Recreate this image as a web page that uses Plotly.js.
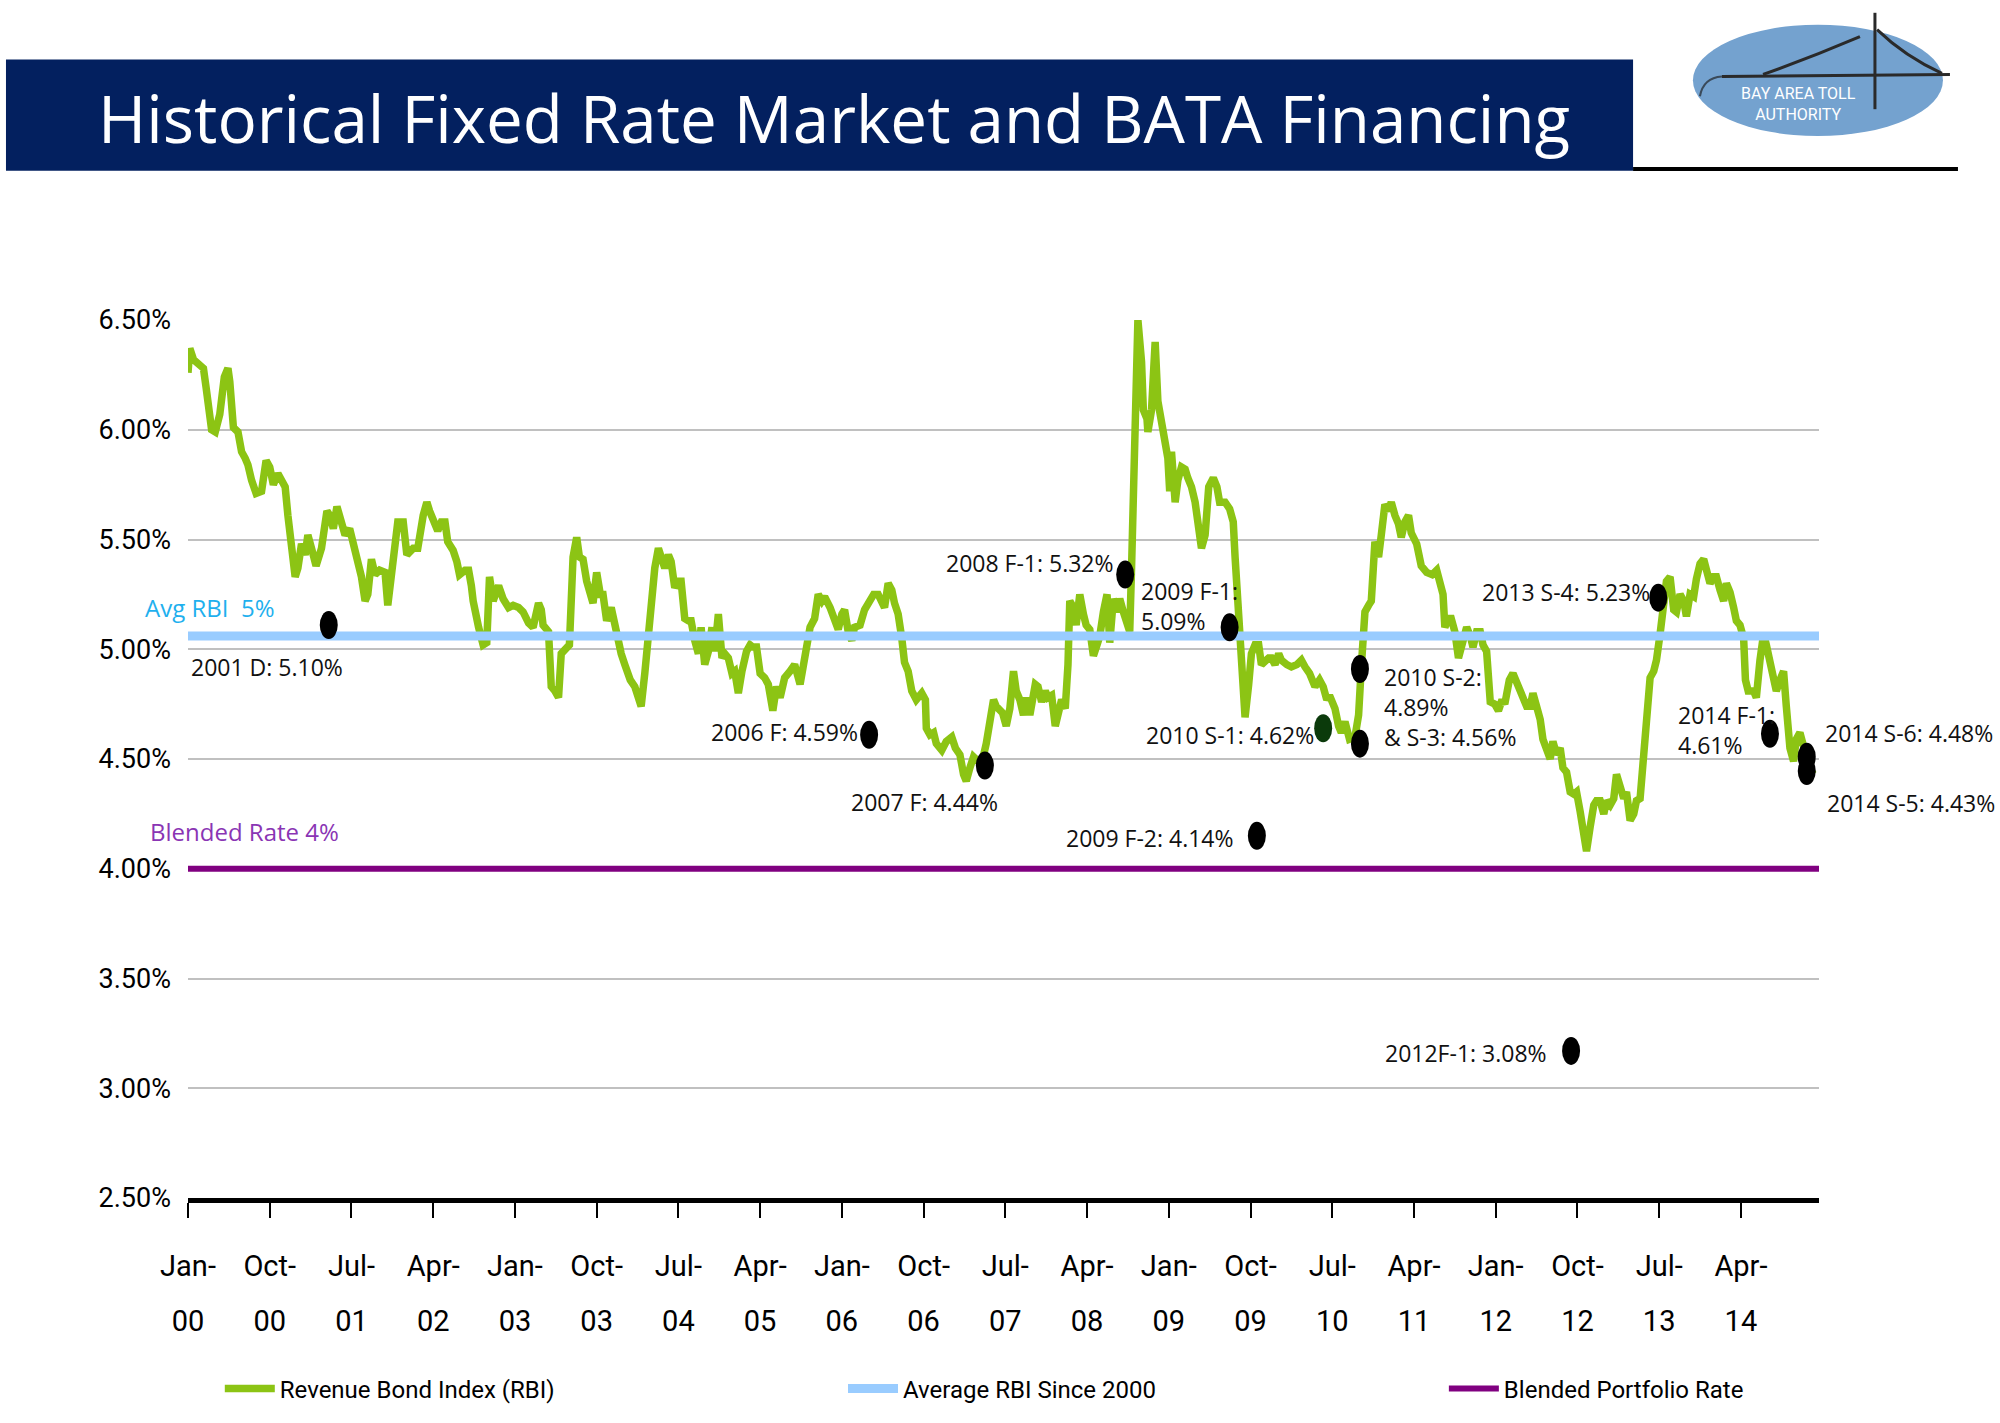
<!DOCTYPE html>
<html>
<head>
<meta charset="utf-8">
<script src="https://cdn.plot.ly/plotly-3.0.1.min.js"></script>
<style>
  html, body { margin: 0; padding: 0; background: #ffffff; }
  #chart { width: 2000px; height: 1423px; }
</style>
</head>
<body>
<div id="chart"></div>
<script>
// RBI readings, x = months since Jan 2000
const rbiMonths = [
  0.0, 0.2, 0.6, 1.1, 1.7, 2.0, 2.6, 3.0, 3.5, 4.0, 4.4, 4.6, 5.0, 5.5, 5.9, 6.3, 6.6, 7.0, 7.5, 8.1,
  8.6, 9.0, 9.4, 9.9, 10.3, 10.7, 11.0, 11.4, 11.8, 12.1, 12.5, 12.9, 13.2, 13.6, 14.1, 14.7, 15.3, 15.6, 16.0, 16.4,
  16.9, 17.3, 17.8, 18.2, 18.7, 19.1, 19.5, 19.8, 20.2, 20.6, 21.1, 21.7, 22.0, 22.4, 22.8, 23.1, 23.7, 24.1, 24.8, 25.3,
  25.9, 26.3, 26.6, 27.0, 27.5, 27.9, 28.3, 28.6, 29.2, 29.6, 29.9, 30.5, 30.9, 31.2, 31.4, 32.0, 32.5, 32.9, 33.2, 33.6,
  34.2, 34.7, 35.3, 35.8, 36.4, 36.9, 37.5, 38.0, 38.3, 38.6, 38.9, 39.1, 39.7, 40.0, 40.4, 40.8, 41.1, 41.7, 42.0, 42.4,
  42.8, 43.1, 43.5, 43.9, 44.3, 44.6, 45.0, 45.4, 45.7, 46.1, 46.6, 47.0, 47.4, 47.7, 48.1, 48.7, 49.2, 49.6, 49.9, 50.3,
  50.7, 51.0, 51.4, 51.8, 52.1, 52.5, 52.9, 53.2, 53.6, 54.0, 54.3, 54.7, 55.1, 55.4, 55.8, 56.2, 56.5, 56.9, 57.3, 57.7,
  58.0, 58.4, 58.8, 59.1, 59.5, 59.9, 60.2, 60.6, 61.0, 61.5, 61.9, 62.2, 62.6, 63.0, 63.5, 63.9, 64.4, 64.8, 65.2, 65.7,
  66.3, 66.8, 67.4, 67.9, 68.5, 69.0, 69.4, 69.8, 70.1, 70.7, 71.2, 71.6, 72.0, 72.3, 72.7, 73.1, 73.4, 74.0, 74.5, 75.1,
  75.5, 76.0, 76.4, 76.7, 77.1, 77.5, 77.8, 78.2, 78.6, 78.9, 79.3, 79.7, 80.2, 80.8, 81.2, 81.3, 81.7, 82.1, 82.4, 83.0,
  83.5, 84.1, 84.5, 85.0, 85.4, 85.7, 86.1, 86.5, 87.0, 87.4, 87.9, 88.3, 88.7, 89.0, 89.4, 89.7, 90.1, 90.5, 90.9, 91.2,
  91.6, 92.0, 92.3, 92.7, 93.3, 93.6, 94.0, 94.4, 94.7, 95.1, 95.5, 95.8, 96.2, 96.6, 96.9, 97.1, 97.5, 97.8, 98.2, 98.6,
  98.9, 99.3, 99.7, 100.1, 100.4, 100.8, 101.2, 101.5, 101.9, 102.3, 102.6, 103.0, 103.4, 103.7, 103.9, 104.3, 104.6, 105.0, 105.2, 105.6,
  105.7, 106.1, 106.5, 106.8, 107.2, 107.6, 107.9, 108.1, 108.3, 108.7, 109.0, 109.4, 109.8, 110.1, 110.5, 110.9, 111.3, 111.6, 112.0, 112.4,
  112.9, 113.3, 113.6, 114.2, 114.7, 115.1, 115.3, 115.7, 116.0, 116.4, 116.8, 117.1, 117.5, 117.9, 118.2, 118.6, 119.0, 119.3, 119.7, 120.1,
  120.4, 121.0, 121.5, 122.1, 122.6, 123.0, 123.5, 124.1, 124.6, 125.0, 125.4, 125.7, 126.3, 126.7, 127.0, 127.4, 127.9, 128.5, 128.9, 129.2,
  129.6, 130.0, 130.3, 130.7, 131.1, 131.4, 131.8, 132.2, 132.5, 132.9, 133.3, 133.6, 134.0, 134.4, 134.7, 135.3, 135.8, 136.4, 137.0, 137.5,
  137.9, 138.2, 138.4, 138.8, 139.1, 139.5, 139.9, 140.3, 140.8, 141.2, 141.5, 141.9, 142.3, 142.6, 143.0, 143.4, 143.9, 144.3, 144.7, 145.0,
  145.5, 145.9, 146.2, 146.5, 146.9, 147.4, 147.8, 148.1, 148.5, 148.9, 149.2, 149.6, 150.0, 150.3, 150.7, 151.1, 151.4, 151.8, 152.2, 152.6,
  152.9, 153.3, 153.7, 154.0, 154.4, 154.8, 155.1, 155.5, 155.9, 156.2, 156.6, 157.0, 157.3, 157.7, 158.1, 158.4, 158.8, 159.2, 159.5, 159.9,
  160.3, 160.6, 161.0, 161.4, 161.7, 162.1, 162.5, 162.8, 163.2, 163.6, 163.9, 164.3, 164.7, 165.0, 165.4, 165.8, 166.1, 166.5, 166.9, 167.2,
  167.6, 168.0, 168.3, 168.7, 169.1, 169.4, 169.8, 170.2, 170.5, 170.9, 171.3, 171.5, 171.8, 172.4, 172.7, 173.1, 173.5, 173.8, 174.2, 174.6,
  174.9, 175.3, 175.7, 176.0, 176.4, 176.8, 177.1, 177.5, 177.9, 178.2, 178.6, 179.0
];
const rbiValues = [
  6.26, 6.37, 6.32, 6.30, 6.28, 6.19, 6.00, 5.99, 6.07, 6.24, 6.28, 6.22, 6.01, 5.99, 5.90, 5.87, 5.84, 5.77, 5.71, 5.72,
  5.86, 5.83, 5.75, 5.80, 5.77, 5.74, 5.61, 5.49, 5.33, 5.37, 5.48, 5.43, 5.52, 5.46, 5.38, 5.46, 5.63, 5.61, 5.55, 5.65,
  5.58, 5.52, 5.55, 5.49, 5.40, 5.33, 5.22, 5.25, 5.41, 5.34, 5.36, 5.35, 5.20, 5.37, 5.52, 5.58, 5.58, 5.43, 5.46, 5.46,
  5.61, 5.67, 5.63, 5.58, 5.54, 5.58, 5.58, 5.49, 5.45, 5.40, 5.34, 5.36, 5.36, 5.29, 5.22, 5.10, 5.02, 5.03, 5.33, 5.22,
  5.29, 5.23, 5.19, 5.20, 5.19, 5.17, 5.12, 5.10, 5.18, 5.21, 5.18, 5.11, 5.08, 4.83, 4.81, 4.78, 4.98, 5.01, 5.02, 5.42,
  5.51, 5.42, 5.41, 5.31, 5.24, 5.21, 5.35, 5.25, 5.25, 5.13, 5.19, 5.10, 5.04, 4.98, 4.93, 4.86, 4.83, 4.78, 4.74, 4.89,
  5.08, 5.18, 5.37, 5.46, 5.42, 5.37, 5.43, 5.40, 5.28, 5.31, 5.31, 5.14, 5.13, 5.13, 5.04, 4.98, 5.10, 4.93, 4.99, 5.10,
  4.99, 5.16, 4.96, 4.98, 4.96, 4.89, 4.90, 4.80, 4.90, 4.99, 5.02, 5.01, 5.01, 4.89, 4.87, 4.84, 4.72, 4.83, 4.78, 4.87,
  4.90, 4.93, 4.84, 4.96, 5.10, 5.14, 5.25, 5.22, 5.24, 5.19, 5.13, 5.09, 5.16, 5.18, 5.08, 5.04, 5.10, 5.11, 5.18, 5.23,
  5.25, 5.25, 5.21, 5.19, 5.30, 5.27, 5.21, 5.16, 5.05, 4.94, 4.90, 4.81, 4.77, 4.80, 4.77, 4.64, 4.61, 4.62, 4.57, 4.54,
  4.58, 4.60, 4.55, 4.52, 4.43, 4.40, 4.46, 4.51, 4.49, 4.48, 4.57, 4.67, 4.77, 4.74, 4.72, 4.71, 4.65, 4.73, 4.90, 4.81,
  4.77, 4.70, 4.78, 4.70, 4.84, 4.83, 4.76, 4.81, 4.78, 4.79, 4.65, 4.70, 4.77, 4.73, 4.93, 5.22, 5.19, 5.11, 5.25, 5.16,
  5.11, 5.09, 4.97, 5.02, 5.06, 5.17, 5.25, 5.03, 5.23, 5.17, 5.23, 5.17, 5.12, 5.08, 5.37, 5.98, 6.50, 6.31, 6.09, 6.05,
  5.99, 6.09, 6.40, 6.13, 6.04, 5.96, 5.87, 5.72, 5.90, 5.67, 5.77, 5.83, 5.82, 5.78, 5.74, 5.67, 5.57, 5.46, 5.52, 5.74,
  5.78, 5.74, 5.67, 5.67, 5.64, 5.58, 5.42, 5.14, 4.87, 4.69, 4.84, 4.98, 5.02, 5.02, 4.93, 4.95, 4.96, 4.96, 4.93, 4.98,
  4.95, 4.93, 4.92, 4.93, 4.95, 4.92, 4.89, 4.83, 4.86, 4.83, 4.77, 4.79, 4.73, 4.65, 4.62, 4.67, 4.59, 4.60, 4.70, 4.92,
  5.17, 5.20, 5.22, 5.49, 5.42, 5.52, 5.66, 5.63, 5.67, 5.61, 5.57, 5.51, 5.58, 5.61, 5.53, 5.48, 5.38, 5.35, 5.34, 5.36,
  5.30, 5.25, 5.10, 5.14, 5.14, 5.08, 4.96, 5.04, 5.10, 5.06, 5.01, 5.08, 5.08, 5.02, 4.99, 4.76, 4.75, 4.72, 4.77, 4.75,
  4.86, 4.89, 4.86, 4.83, 4.78, 4.74, 4.74, 4.80, 4.74, 4.68, 4.59, 4.55, 4.50, 4.58, 4.52, 4.55, 4.46, 4.44, 4.35, 4.34,
  4.35, 4.26, 4.16, 4.08, 4.19, 4.29, 4.31, 4.31, 4.25, 4.31, 4.29, 4.32, 4.43, 4.37, 4.32, 4.35, 4.22, 4.25, 4.31, 4.32,
  4.53, 4.72, 4.87, 4.90, 4.95, 5.07, 5.24, 5.31, 5.33, 5.18, 5.17, 5.25, 5.22, 5.15, 5.25, 5.24, 5.32, 5.39, 5.41, 5.37,
  5.30, 5.33, 5.33, 5.27, 5.22, 5.30, 5.26, 5.19, 5.13, 5.11, 5.05, 4.86, 4.81, 4.81, 4.78, 4.95, 5.07, 5.02, 4.95, 4.87,
  4.81, 4.86, 4.90, 4.74, 4.55, 4.49, 4.59, 4.62, 4.56, 4.50, 4.45, 4.43
];

const avgRbi = 5.06;
const blendedRate = 4.0;
const xRangeMonths = [0, 179.6];

// BATA financings
const finLabels = [
  "2001 D: 5.10%", "2006 F: 4.59%", "2007 F: 4.44%", "2008 F-1: 5.32%", "2009 F-1:<br>5.09%",
  "2009 F-2: 4.14%", "2010 S-1: 4.62%", "2010 S-2:<br>4.89%<br>& S-3: 4.56%", "",
  "2012F-1: 3.08%", "2013 S-4: 5.23%", "2014 F-1:<br>4.61%", "2014 S-6: 4.48%", "2014 S-5: 4.43%"
];
const finMonths = [15.5, 75.0, 87.75, 103.2, 114.7, 117.7, 125.0, 129.05, 129.05, 152.3, 161.9, 174.2, 178.25, 178.25];
const finValues = [5.11, 4.61, 4.47, 5.34, 5.10, 4.15, 4.64, 4.91, 4.57, 3.17, 5.235, 4.615, 4.51, 4.445];
const finColors = ["#000", "#000", "#000", "#000", "#000", "#000", "#0b3a0b", "#000", "#000", "#000", "#000", "#000", "#000", "#000"];

// axis ticks every 9 months
const tickMonths = [0, 9, 18, 27, 36, 45, 54, 63, 72, 81, 90, 99, 108, 117, 126, 135, 144, 153, 162, 171];
const tickMonthText = ["Jan-", "Oct-", "Jul-", "Apr-", "Jan-", "Oct-", "Jul-", "Apr-", "Jan-", "Oct-",
  "Jul-", "Apr-", "Jan-", "Oct-", "Jul-", "Apr-", "Jan-", "Oct-", "Jul-", "Apr-"];
const tickYearText = ["00", "00", "01", "02", "03", "03", "04", "05", "06", "06",
  "07", "08", "09", "09", "10", "11", "12", "12", "13", "14"];
const yTicks = [2.5, 3.0, 3.5, 4.0, 4.5, 5.0, 5.5, 6.0, 6.5];
const yTickText = ["2.50%", "3.00%", "3.50%", "4.00%", "4.50%", "5.00%", "5.50%", "6.00%", "6.50%"];

// label placement relative to each marker: [xanchor, xshift, yshift]
const labelPlace = [
  ["left", -140, -42], ["right", -9, 3], ["left", -136, -36], ["right", -9, 12], ["left", -91, 21],
  ["right", -21, -2], ["right", -7, -7], ["left", 22, -38], ["left", 0, 0],
  ["right", -22, -2], ["right", -6, 6], ["left", -94, 4], ["left", 16, 24], ["left", 18, -32]
];

const MONTH_MS = 30.436875 * 86400000;
function monthToDate(m) {
  const d = new Date(Date.UTC(2000, 0, 1) + m * MONTH_MS);
  return d.toISOString().slice(0, 19).replace("T", " ");
}

const NARROW = 'Roboto, "Noto Sans", sans-serif';
const TEXT = '"Open Sans", "Noto Sans", sans-serif';

const rbiX = rbiMonths.map(monthToDate);
const xStart = monthToDate(xRangeMonths[0]);
const xEnd = monthToDate(xRangeMonths[1]);
const finX = finMonths.map(monthToDate);
const tickDates = tickMonths.map(monthToDate);

const traces = [
  {
    x: rbiX, y: rbiValues, type: "scatter", mode: "lines",
    name: "Revenue Bond Index (RBI)", legend: "legend",
    line: { color: "#8cc414", width: 7.5 },
    hovertemplate: "%{x|%b %Y}: %{y:.2f}%<extra></extra>",
  },
  {
    x: [xStart, xEnd], y: [avgRbi, avgRbi], type: "scatter", mode: "lines",
    xaxis: "x2", name: "Average RBI Since 2000", legend: "legend2",
    line: { color: "#99ccff", width: 9 }, hoverinfo: "skip",
  },
  {
    x: [xStart, xEnd], y: [blendedRate, blendedRate], type: "scatter", mode: "lines",
    xaxis: "x2", name: "Blended Portfolio Rate", legend: "legend3",
    line: { color: "#800080", width: 6 }, hoverinfo: "skip",
  },
  {
    x: finX, y: finValues, type: "scatter", mode: "markers", xaxis: "x2",
    showlegend: false, text: finLabels,
    marker: { color: finColors, size: 16, line: { width: 0 } },
    hovertemplate: "%{text}<extra></extra>",
  },
];

// tall ellipses for the financing dots
const dotShapes = finX.map((x, i) => ({
  type: "circle", xref: "x", yref: "y",
  xsizemode: "pixel", ysizemode: "pixel",
  xanchor: x, yanchor: finValues[i],
  x0: -9, x1: 9, y0: -14, y1: 14,
  fillcolor: finColors[i], line: { width: 0 },
}));

const finAnnotations = finLabels.map((t, i) => ({
  x: finX[i], y: finValues[i], xref: "x", yref: "y",
  text: t, showarrow: false,
  xanchor: labelPlace[i][0], yanchor: "middle", align: "left",
  xshift: labelPlace[i][1], yshift: labelPlace[i][2],
  font: { family: TEXT, size: 23, color: "#111111" },
})).filter((a) => a.text !== "");

// header, logo
const headerShapes = [
  { type: "rect", xref: "paper", yref: "paper", x0: -0.1116, x1: 0.886, y0: 1.1699, y1: 1.2967,
    fillcolor: "#03205f", line: { width: 0 } },
  { type: "line", xref: "paper", yref: "paper", x0: 0.886, x1: 1.0852, y0: 1.1721, y1: 1.1721,
    line: { color: "#000000", width: 4 } },
  { type: "circle", xref: "paper", yref: "paper", x0: 0.9227, x1: 1.0760, y0: 1.2095, y1: 1.3364,
    fillcolor: "#74a2cf", line: { width: 0 } },
  { type: "line", xref: "paper", yref: "paper", x0: 1.0343, x1: 1.0343, y0: 1.3499, y1: 1.2401,
    line: { color: "#2a2a2a", width: 3 } },
  { type: "line", xref: "paper", yref: "paper", x0: 0.9405, x1: 1.0803, y0: 1.2774, y1: 1.2797,
    line: { color: "#2a2a2a", width: 3 } },
  { type: "path", xref: "paper", yref: "paper", path: "M 1.0356 1.3307 Q 1.0527 1.3001 1.0754 1.2809",
    line: { color: "#2a2a2a", width: 3 } },
  { type: "path", xref: "paper", yref: "paper", path: "M 0.9657 1.2797 Q 0.9950 1.2990 1.0251 1.3228",
    line: { color: "#2a2a2a", width: 3 } },
  { type: "path", xref: "paper", yref: "paper", path: "M 0.9270 1.2548 Q 0.9290 1.2760 0.9405 1.2774",
    line: { color: "#3a4a5a", width: 2 } },
];

const textAnnotations = [
  { xref: "paper", yref: "paper", x: -0.0564, y: 1.231, xanchor: "left", yanchor: "middle",
    text: "Historical Fixed Rate Market and BATA Financing", showarrow: false,
    font: { family: TEXT, size: 65.5, color: "#ffffff" } },
  { xref: "paper", yref: "paper", x: 0.9875, y: 1.2465, xanchor: "center", yanchor: "middle",
    text: "BAY AREA TOLL<br>AUTHORITY", showarrow: false, align: "center",
    font: { family: NARROW, size: 16, color: "#ffffff" } },
  { xref: "paper", yref: "y", x: -0.0276, y: avgRbi, yshift: 29, xanchor: "left", yanchor: "middle",
    text: "Avg RBI\u00a0\u00a05%", showarrow: false, font: { family: TEXT, size: 24, color: "#1fb0ee" } },
  { xref: "paper", yref: "y", x: -0.0245, y: blendedRate, yshift: 37, xanchor: "left", yanchor: "middle",
    text: "Blended Rate 4%", showarrow: false, font: { family: TEXT, size: 24, color: "#8a35b4" } },
];

const xCommon = {
  type: "date",
  range: [xStart, xEnd],
  tickmode: "array",
  tickvals: tickDates,
  showgrid: false,
  zeroline: false,
  fixedrange: true,
};

const legendCommon = {
  orientation: "h", y: -0.2174, xanchor: "left", yanchor: "middle",
  itemwidth: 50,
  font: { family: NARROW, size: 24, color: "#000000" },
  bgcolor: "rgba(0,0,0,0)",
};

const layout = {
  width: 2000,
  height: 1423,
  autosize: false,
  margin: { t: 320, r: 181, b: 220, l: 188, pad: 0 },
  paper_bgcolor: "#ffffff",
  plot_bgcolor: "#ffffff",
  font: { family: TEXT, color: "#000000" },
  showlegend: true,
  legend: { ...legendCommon, x: 0.0195 },
  legend2: { ...legendCommon, x: 0.4016 },
  legend3: { ...legendCommon, x: 0.7700 },
  xaxis: {
    ...xCommon,
    ticktext: tickMonthText,
    ticks: "outside", ticklen: 15, tickwidth: 2, tickcolor: "#000000",
    showline: true, linecolor: "#000000", linewidth: 5,
    tickfont: { family: NARROW, size: 29, color: "#000000" },
    ticklabelstandoff: 23,
  },
  xaxis2: {
    ...xCommon,
    overlaying: "x", side: "bottom", anchor: "y",
    ticktext: tickYearText,
    ticks: "", showline: false,
    tickfont: { family: NARROW, size: 29, color: "#000000" },
    ticklabelstandoff: 103,
  },
  yaxis: {
    range: [2.5, 6.5],
    tickmode: "array",
    tickvals: yTicks,
    ticktext: yTickText,
    showgrid: true, gridcolor: "#c0c0c0", gridwidth: 2,
    zeroline: false, showline: false, ticks: "",
    tickfont: { family: NARROW, size: 27, color: "#000000" },
    ticklabelstandoff: 16,
    fixedrange: true,
  },
  shapes: [...headerShapes, ...dotShapes],
  annotations: [...textAnnotations, ...finAnnotations],
};

Plotly.newPlot("chart", traces, layout, { displayModeBar: false, responsive: false });
</script>
</body>
</html>
